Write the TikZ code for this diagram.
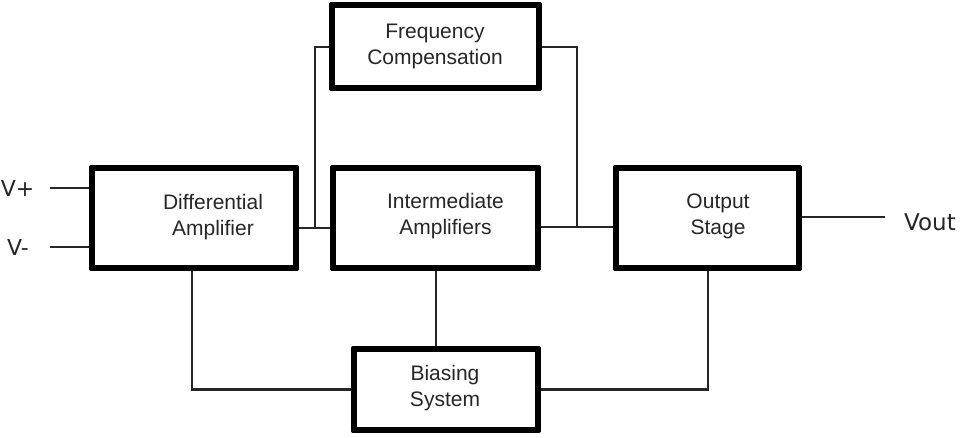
\documentclass[tikz,border=0pt]{standalone}
\usepackage{fontspec}
\setmainfont{Liberation Sans}
\newfontfamily\djv{DejaVu Sans}
\begin{document}
\begin{tikzpicture}[x=1pt,y=-1pt,
  blk/.style={draw=black,line width=4pt,fill=white,rectangle,inner sep=0pt,line join=round},
  lbl/.style={align=center,inner sep=0pt,font=\fontsize{21}{26}\selectfont,text=black!85},
  wire/.style={draw=black!85,line width=2.2pt},
  pin/.style={inner sep=0pt,font=\djv\fontsize{22}{26}\selectfont,text=black!85}]
\useasboundingbox (0,0) rectangle (975,437);
\coordinate (vp) at (50,188);
\coordinate (vm) at (50,247);
\coordinate (j1) at (315,228);
\coordinate (j2) at (577,227);
\coordinate (vo) at (885,217);
\node[blk,minimum width=202pt,minimum height=98pt] (diff) at (194,218) {};
\node[blk,minimum width=203pt,minimum height=98pt] (inter) at (435.5,218) {};
\node[blk,minimum width=181pt,minimum height=98pt] (out) at (707.5,218) {};
\node[blk,minimum width=205pt,minimum height=81pt] (freq) at (435.5,46.5) {};
\node[blk,minimum width=182pt,minimum height=79pt] (bias) at (446,389.5) {};
\draw[wire] (vp) -- (vp -| diff.west);
\draw[wire] (vm) -- (vm -| diff.west);
\draw[wire] (j1 -| diff.east) -- (j1 -| inter.west);
\draw[wire] (j1) |- (freq.west |- 0,47);
\draw[wire] (j2 -| inter.east) -- (j2 -| out.west);
\draw[wire] (j2) |- (freq.east |- 0,47);
\draw[wire] (vo -| out.east) -- (vo);
\draw[wire] (192,0 |- diff.south) |- (bias.west);
\draw[wire] (436,0 |- inter.south) -- (436,0 |- bias.north);
\draw[wire] (708,0 |- out.south) |- (bias.east);
\foreach \n in {diff,inter,out,freq,bias}{
  \draw[line width=4pt,line join=round] (\n.north west) rectangle (\n.south east);
}
\node[lbl] (tdiff) at (213,217) {Differential\\Amplifier};
\node[lbl] (tfreq) at (435,46) {Frequency\\Compensation};
\node[lbl] (tinter) at (445.5,216) {Intermediate\\Amplifiers};
\node[lbl] (tout) at (718,216.5) {Output\\Stage};
\node[lbl] (tbias) at (445,388) {Biasing\\System};
\node[pin] (lvp) at (17.5,188) {V+};
\node[pin] (lvm) at (18,247) {V-};
\node[pin,font=\djv\fontsize{23}{27}\selectfont] (lvo) at (930,222) {Vout};
\end{tikzpicture}
\end{document}
